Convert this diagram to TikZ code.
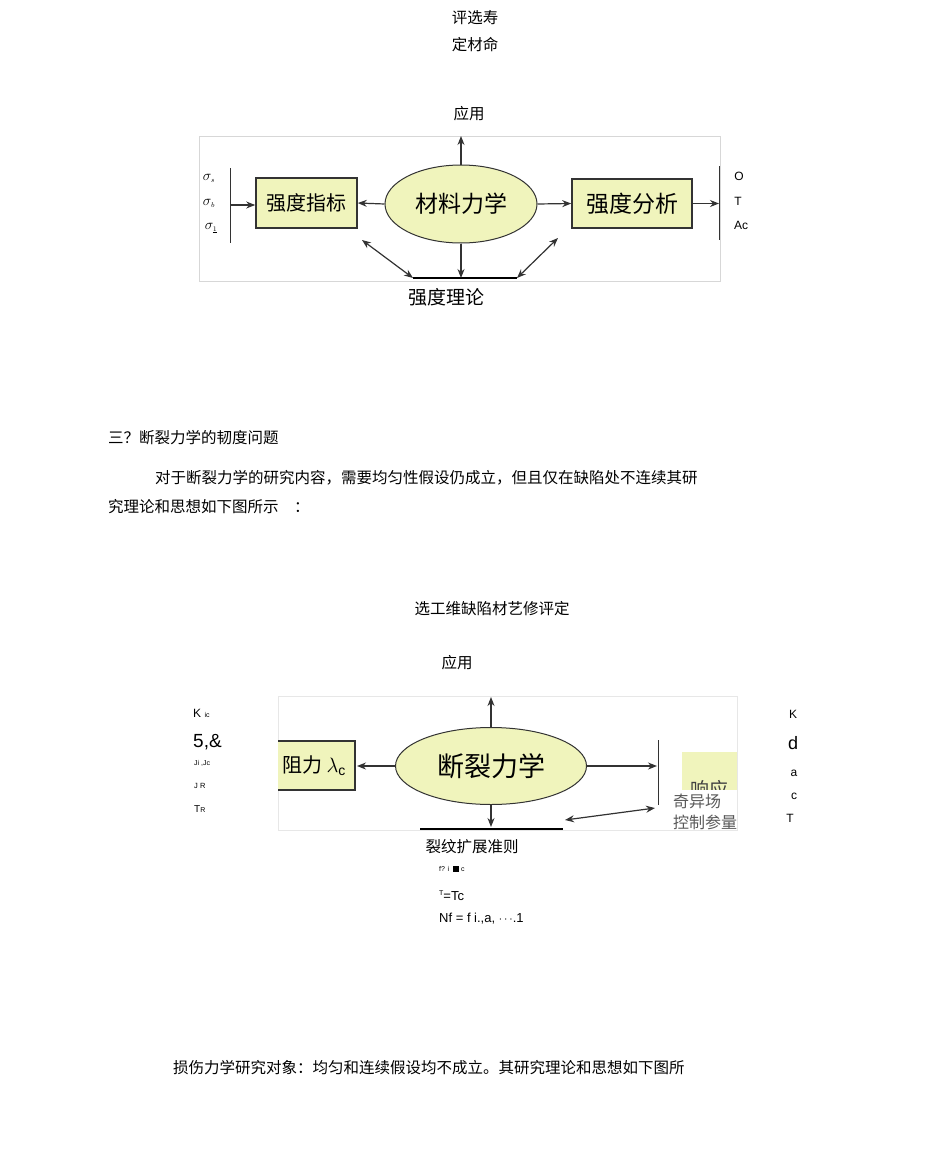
\documentclass[tikz,border=0pt]{standalone}
\usepackage{fontspec}
\setmainfont{Liberation Sans}
\newfontfamily\cjk{Noto Sans CJK SC}
\usetikzlibrary{shapes.geometric,arrows.meta}
\definecolor{fillY}{RGB}{240,244,188}
\definecolor{frameG}{RGB}{215,215,215}
\tikzset{
 txt/.style={font=\cjk\fontsize{15.5}{17}\selectfont,inner sep=0pt},
 lbl/.style={font=\fontsize{12}{14}\selectfont,inner sep=0pt},
 ybox/.style={draw=black!80,line width=1.6pt,fill=fillY,font=\cjk\fontsize{20}{22}\selectfont,inner sep=0pt},
 yell/.style={ellipse,draw=black!80,line width=1pt,fill=fillY,inner sep=0pt},
 arr/.style={-{Stealth[length=9pt,width=7pt]},line width=1.2pt,black!80},
 darr/.style={{Stealth[length=9pt,width=7pt]}-{Stealth[length=9pt,width=7pt]},line width=1.2pt,black!80},
}
\begin{document}
\begin{tikzpicture}[x=1pt,y=-1pt]
\useasboundingbox (0,0) rectangle (950,1167);
\fill[white] (0,0) rectangle (950,1167);
% ---- top texts
\node[txt] (t1) at (475,18) {评选寿};
\node[txt] (t2) at (475,45) {定材命};
\node[txt] (t3) at (469,114) {应用};
% ---- diagram 1
\draw[frameG,line width=0.6pt] (199,136) rectangle (720,281);
\node[yell,minimum width=152,minimum height=78,font=\cjk\fontsize{23}{25}\selectfont] (e1) at (461,204) {材料力学};
\node[ybox,minimum width=101,minimum height=50] (b1) at (306.5,203) {强度指标};
\node[ybox,minimum width=120,minimum height=49,font=\cjk\fontsize{23}{25}\selectfont] (b2) at (632,203.5) {强度分析};
\node[font=\fontsize{15}{17}\selectfont,inner sep=0pt] (s1) at (209,178) {$\sigma_{\scriptscriptstyle s}$};
\node[font=\fontsize{15}{17}\selectfont,inner sep=0pt] (s2) at (209,203) {$\sigma_{\scriptscriptstyle b}$};
\node[font=\fontsize{15}{17}\selectfont,inner sep=0pt] (s3) at (211,228) {$\sigma_{\underline{\scriptscriptstyle 1}}$};
\draw[black!80,line width=1pt] (230,168) -- (230,243);
\coordinate (lb) at (230,205);
\draw[arr] (lb) -- (b1.west|-lb);
\draw[arr] (e1.west) -- (b1.east);
\draw[arr] (e1.east) -- (b2.west);
\draw[black!80,line width=1pt] (719,166) -- (719,240);
\coordinate (rb) at (719,203.5);
\draw[arr] (b2.east) -- (rb);
\node[lbl] (o) at (739,176) {O};
\node[lbl] (tt) at (738,201) {T};
\node[lbl] (ac) at (741,225) {Ac};
\coordinate (up1) at (461,136);
\draw[arr] (e1.north) -- (up1);
\coordinate (bl) at (413,278);
\coordinate (br) at (517,278);
\coordinate (bm) at (461,278);
\draw[black,line width=2.5pt] (bl) -- (br);
\draw[arr] (e1.south) -- (bm);
\coordinate (d1) at (362,240);
\coordinate (d2) at (558,238);
\draw[darr] (d1) -- (bl);
\draw[darr] (d2) -- (br);
\node[txt,font=\cjk\fontsize{19}{21}\selectfont] (th) at (446,297) {强度理论};
% ---- middle text
\node[txt,anchor=west] (h3) at (108,438) {三？断裂力学的韧度问题};
\node[txt,anchor=west] (p1) at (155,478) {对于断裂力学的研究内容，需要均匀性假设仍成立，但且仅在缺陷处不连续其研};
\node[txt,anchor=west] (p2) at (108,507) {究理论和思想如下图所示\quad ：};
\node[txt] (t4) at (492,609) {选工维缺陷材艺修评定};
\node[txt] (t5) at (457,663) {应用};
% ---- diagram 2
\draw[frameG!60,line width=0.5pt] (278,696) rectangle (737,830);
\fill[fillY] (278,741) rectangle (355,790);
\draw[black!80,line width=2.2pt] (278,741) -- (355,741) -- (355,790) -- (278,790);
\node[font=\cjk\fontsize{20}{22}\selectfont,inner sep=0pt] (b3) at (314,766) {阻力 $\lambda_{\mathrm c}$};
\coordinate (b3e) at (357,766);
\node[yell,minimum width=191,minimum height=77,font=\cjk\fontsize{27}{29}\selectfont] (e2) at (491,766) {断裂力学};
\draw[arr] (e2.west) -- (b3e);
\draw[black!80,line width=1pt] (658,740) -- (658,805);
\coordinate (rb2) at (657,766);
\draw[arr] (e2.east) -- (rb2);
\fill[fillY] (682,752) rectangle (737,790);
\begin{scope}
\clip (682,752) rectangle (737,789);
\node[font=\cjk\fontsize{19}{21}\selectfont,inner sep=0pt,black!75] (xy) at (709,789) {响应};
\end{scope}
\node[font=\cjk\fontsize{16}{18}\selectfont,inner sep=0pt,black!65] (qy) at (697,801) {奇异场};
\node[font=\cjk\fontsize{16}{18}\selectfont,inner sep=0pt,black!65] (kz) at (705,822) {控制参量};
\coordinate (up2) at (491,697);
\draw[arr] (e2.north) -- (up2);
\coordinate (bm2) at (491,827);
\draw[arr] (e2.south) -- (bm2);
\draw[black,line width=2pt] (420,829) -- (563,829);
\coordinate (q1) at (655,808);
\coordinate (q2) at (565,820);
\draw[darr] (q1) -- (q2);
\node[lbl,anchor=west] (k1) at (193,713) {K \fontsize{7}{8}\selectfont ic};
\node[anchor=west,inner sep=0pt,font=\fontsize{19}{21}\selectfont] (k2) at (193,742) {5,\&};
\node[anchor=west,inner sep=0pt,font=\fontsize{7}{8}\selectfont] (k3) at (194,763) {Ji ,Jc};
\node[anchor=west,inner sep=0pt,font=\fontsize{7.5}{8}\selectfont] (k4) at (194,786) {J R};
\node[anchor=west,inner sep=0pt,font=\fontsize{10}{11}\selectfont] (k5) at (194,809) {T\fontsize{7}{8}\selectfont R};
\node[lbl] (r1) at (793,714) {K};
\node[inner sep=0pt,font=\fontsize{18}{20}\selectfont] (r2) at (793,743) {d};
\node[lbl] (r3) at (794,773) {a};
\node[lbl] (r4) at (794,796) {c};
\node[lbl] (r5) at (790,818) {T};
\node[txt] (lw) at (472,847) {裂纹扩展准则};
\node[anchor=west,inner sep=0pt,font=\fontsize{7}{8}\selectfont] (f1) at (439,869) {f? i \ \rule{6pt}{6pt} c};
\node[anchor=west,inner sep=0pt,font=\fontsize{13}{15}\selectfont] (f2) at (439,896) {\raisebox{5pt}{\fontsize{7}{8}\selectfont T}=Tc};
\node[anchor=west,inner sep=0pt,font=\fontsize{13}{15}\selectfont] (f3) at (439,919) {Nf = f i.,a, $\cdots$.1};
\node[txt,anchor=west] (last) at (173,1068) {损伤力学研究对象：均匀和连续假设均不成立。其研究理论和思想如下图所};
\end{tikzpicture}
\end{document}
